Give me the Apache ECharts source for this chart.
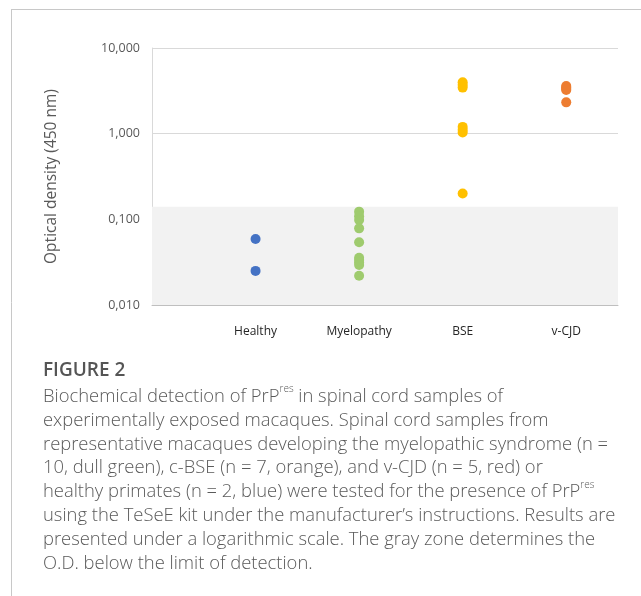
<!DOCTYPE html>
<html>
<head>
<meta charset="utf-8">
<script src="https://cdn.jsdelivr.net/npm/echarts@6/dist/echarts.min.js"></script>
<style>
  html, body { margin: 0; padding: 0; background: #fff; }
  #chart { width: 641px; height: 596px; }
</style>
</head>
<body>
<div id="chart"></div>
<script>
// Groups shown along the horizontal axis (placed at x = 1..4)
const categories = ['Healthy', 'Myelopathy', 'BSE', 'v-CJD'];

// Optical density readings (450 nm) per group
const healthy = [0.059, 0.025];
const myelopathy = [0.123, 0.109, 0.098, 0.0785, 0.054, 0.0356, 0.0335, 0.0313, 0.0293, 0.022];
const bse = [3.97, 3.70, 3.45, 1.20, 1.10, 1.03, 0.20];
const vcjd = [3.60, 3.45, 3.35, 3.24, 2.32];

// Limit of detection: readings below this fall in the gray zone
const detectionLimit = 0.14;

// Log-axis tick values
const yTicks = [0.01, 0.1, 1, 10];

const groupColors = ['#4472C4', '#9FCB6E', '#FFC000', '#ED7D31'];
const groups = [healthy, myelopathy, bse, vcjd];

// Figure caption, one entry per line; {s|...} marks superscript
const captionTitle = 'FIGURE 2';
const captionLines = [
  'Biochemical detection of PrP{s|res} in spinal cord samples of',
  'experimentally exposed macaques. Spinal cord samples from',
  'representative macaques developing the myelopathic syndrome (n =',
  '10, dull green), c-BSE (n = 7, orange), and v-CJD (n = 5, red) or',
  'healthy primates (n = 2, blue) were tested for the presence of PrP{s|res}',
  'using the TeSeE kit under the manufacturer\u2019s instructions. Results are',
  'presented under a logarithmic scale. The gray zone determines the',
  'O.D. below the limit of detection.'
];

const chart = echarts.init(document.getElementById('chart'), null, { renderer: 'canvas' });

const series = groups.map((vals, gi) => ({
  type: 'scatter',
  name: categories[gi],
  data: vals.map(v => [gi + 1, v]),
  symbol: 'circle',
  symbolSize: 10,
  itemStyle: { color: groupColors[gi], opacity: 1 },
  z: 5
}));

// Gray zone under the detection limit
series.push({
  type: 'scatter',
  data: [],
  silent: true,
  markArea: {
    silent: true,
    itemStyle: { color: '#F2F2F2' },
    data: [[{ coord: [0, yTicks[0]] }, { coord: [4.5, detectionLimit] }]]
  },
  z: 1
});

const graphic = [
  // figure frame
  { type: 'line', shape: { x1: 11, y1: 9.5, x2: 641, y2: 9.5 }, style: { stroke: '#C8C8C8', lineWidth: 1 } },
  { type: 'line', shape: { x1: 11.5, y1: 9, x2: 11.5, y2: 596 }, style: { stroke: '#C8C8C8', lineWidth: 1 } },
  {
    type: 'text', left: 43, top: 361,
    style: {
      text: captionTitle,
      font: '600 19px "Open Sans"',
      fill: '#555555'
    }
  }
];

captionLines.forEach((line, i) => {
  graphic.push({
    type: 'text',
    x: 43,
    y: 396.5 + i * 23.9,
    style: {
      text: line,
      fontFamily: 'Open Sans',
      fontWeight: 300,
      fontSize: 18.4,
      fill: '#5A5A5A',
      verticalAlign: 'middle',
      lineHeight: 24,
      rich: {
        s: { fontFamily: 'Open Sans', fontWeight: 300, fontSize: 10, fill: '#5A5A5A', verticalAlign: 'top', lineHeight: 19 }
      }
    }
  });
});

chart.setOption({
  animation: false,
  backgroundColor: '#ffffff',
  grid: { left: 152, top: 48, right: 23, bottom: 291, containLabel: false },
  xAxis: {
    type: 'value',
    min: 0,
    max: 4.5,
    interval: 1,
    axisLine: { show: true, lineStyle: { color: '#BFBFBF', width: 1 } },
    axisTick: { show: false },
    splitLine: { show: false },
    axisLabel: {
      margin: 21,
      color: '#262626',
      fontFamily: 'Open Sans',
      fontSize: 12,
      formatter: v => (Number.isInteger(v) && v >= 1 && v <= categories.length) ? categories[v - 1] : ''
    }
  },
  yAxis: {
    type: 'log',
    logBase: 10,
    min: yTicks[0],
    max: yTicks[yTicks.length - 1],
    name: 'Optical density (450 nm)',
    nameLocation: 'middle',
    nameGap: 92,
    nameRotate: 90,
    nameTextStyle: { color: '#595959', fontFamily: 'Open Sans', fontSize: 15.5 },
    axisLine: { show: true, lineStyle: { color: '#D9D9D9' } },
    axisTick: { show: false },
    splitLine: { show: true, lineStyle: { color: '#D9D9D9', width: 1 } },
    axisLabel: {
      margin: 12,
      color: '#595959',
      fontFamily: 'Open Sans',
      fontSize: 12.5,
      formatter: v => v.toFixed(3).replace('.', ',')
    }
  },
  series: series,
  graphic: graphic
});
</script>
</body>
</html>
